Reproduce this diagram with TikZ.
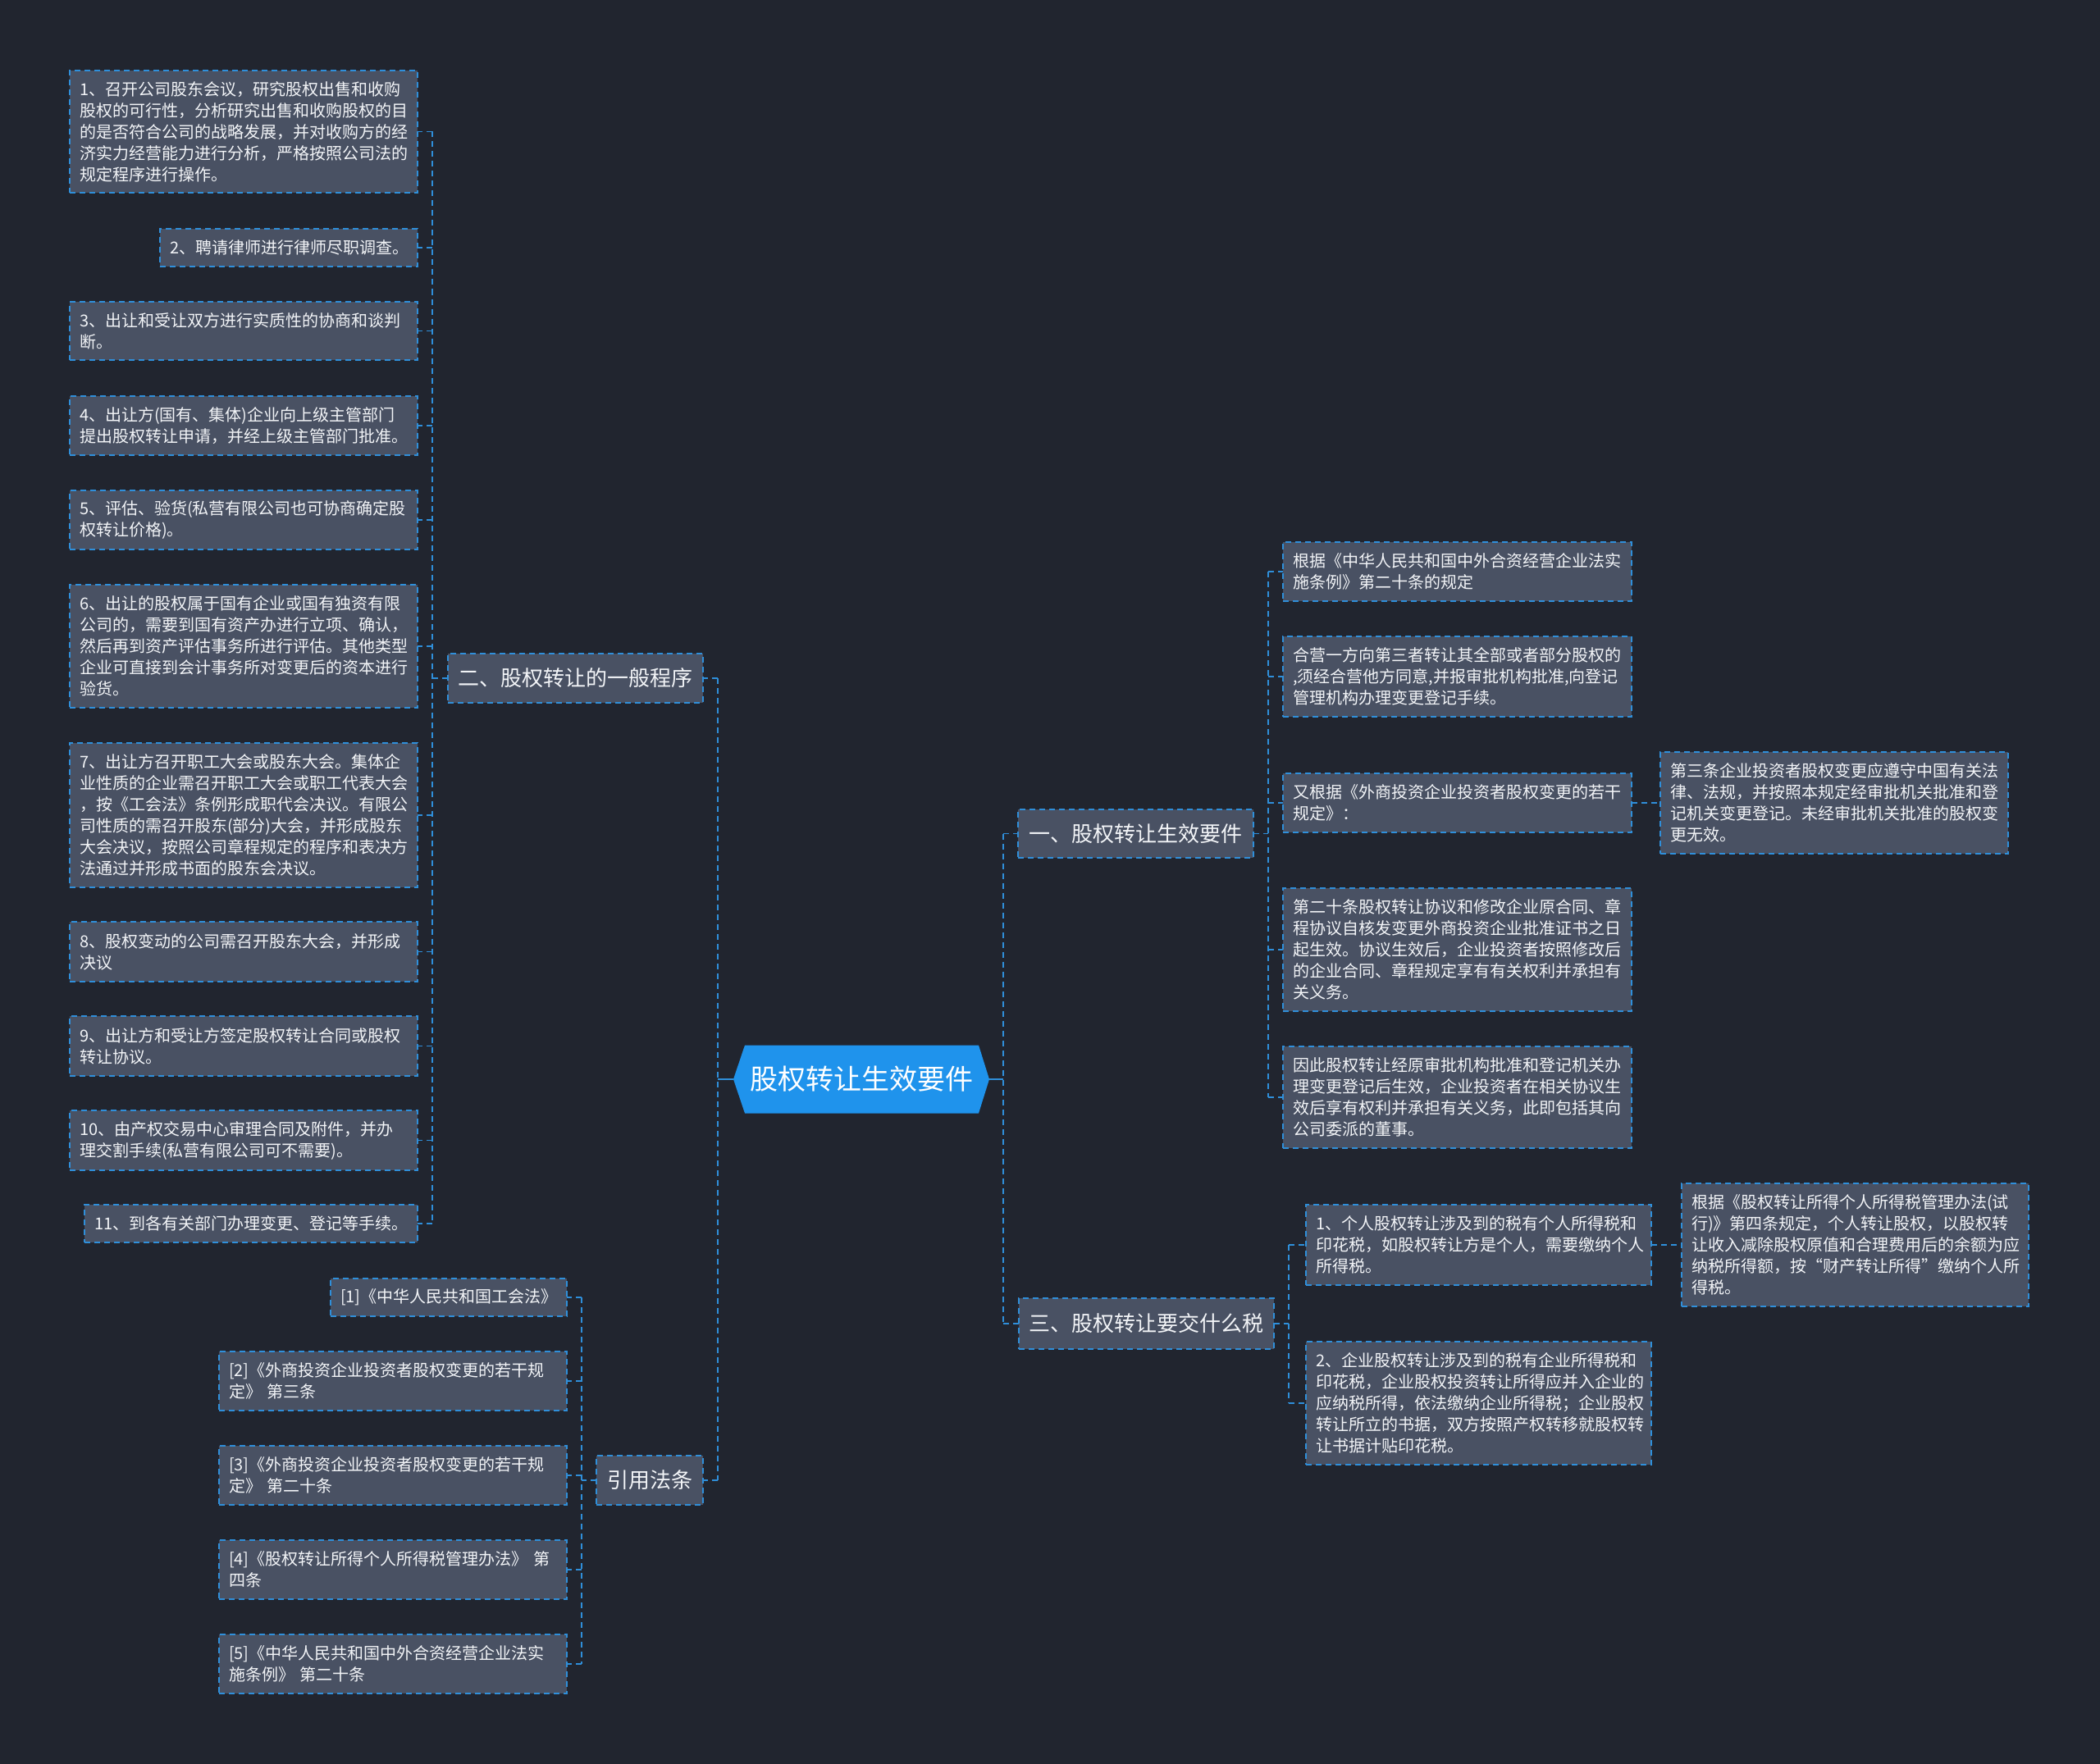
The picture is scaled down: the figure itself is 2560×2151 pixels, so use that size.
\documentclass[tikz,border=0pt]{standalone}
\usepackage{fontspec}
\setmainfont{Noto Sans CJK SC}
\usetikzlibrary{calc}
\definecolor{bg}{HTML}{21252F}
\definecolor{boxc}{HTML}{495163}
\definecolor{linec}{HTML}{2F8FDA}
\definecolor{rootc}{HTML}{1F93EC}
\definecolor{txt}{HTML}{F2F4F7}
\begin{document}
\begin{tikzpicture}[x=1pt,y=-1pt,
  box/.style={draw=linec, line width=1.6pt, dash pattern=on 7pt off 5pt, fill=boxc, text=txt,
    inner xsep=12pt, inner ysep=0pt, outer sep=0pt, align=left, anchor=north west,
    font=\fontsize{20}{26}\selectfont},
  branch/.style={draw=linec, line width=1.6pt, dash pattern=on 7pt off 5pt, fill=boxc, text=txt,
    inner xsep=0pt, inner ysep=0pt, outer sep=0pt, align=center, anchor=north west,
    font=\fontsize{26}{32}\selectfont},
  conn/.style={draw=linec, line width=1.6pt, dash pattern=on 7pt off 5pt},
  solidconn/.style={draw=linec, line width=2pt}]
\fill[bg] (0,0) rectangle (2560,2151);
\useasboundingbox (0,0) rectangle (2560,2151);

% root
\node[minimum width=312pt, minimum height=83pt, inner sep=0pt, outer sep=0pt, text=white,
  font=\fontsize{34}{40}\selectfont,
  path picture={\fill[rootc] (path picture bounding box.west)
    -- ([xshift=14pt]path picture bounding box.north west)
    -- ([xshift=-13pt]path picture bounding box.north east)
    -- (path picture bounding box.east)
    -- ([xshift=-13pt]path picture bounding box.south east)
    -- ([xshift=14pt]path picture bounding box.south west) -- cycle;}]
  (root) at (1050,1316) {股权转让生效要件};

% branches
\node[branch, minimum width=311pt, minimum height=60pt] (n2) at (546,797) {二、股权转让的一般程序};
\node[branch, minimum width=130pt, minimum height=60pt] (n4) at (727,1775) {引用法条};
\node[branch, minimum width=287pt, minimum height=59pt] (n1) at (1241,987) {一、股权转让生效要件};
\node[branch, minimum width=311pt, minimum height=62pt] (n3) at (1242,1583) {三、股权转让要交什么税};

% left: procedure
\node[box, text width=400pt, minimum height=149pt] (b1) at (85,86) {1、召开公司股东会议，研究股权出售和收购\\股权的可行性，分析研究出售和收购股权的目\\的是否符合公司的战略发展，并对收购方的经\\济实力经营能力进行分析，严格按照公司法的\\规定程序进行操作。};
\node[box, text width=290pt, minimum height=46pt] (b2) at (195,279) {2、聘请律师进行律师尽职调查。};
\node[box, text width=400pt, minimum height=71pt] (b3) at (85,368) {3、出让和受让双方进行实质性的协商和谈判\\断。};
\node[box, text width=400pt, minimum height=72pt] (b4) at (85,483) {4、出让方(国有、集体)企业向上级主管部门\\提出股权转让申请，并经上级主管部门批准。};
\node[box, text width=400pt, minimum height=72pt] (b5) at (85,598) {5、评估、验货(私营有限公司也可协商确定股\\权转让价格)。};
\node[box, text width=400pt, minimum height=150pt] (b6) at (85,713) {6、出让的股权属于国有企业或国有独资有限\\公司的，需要到国有资产办进行立项、确认，\\然后再到资产评估事务所进行评估。其他类型\\企业可直接到会计事务所对变更后的资本进行\\验货。};
\node[box, text width=400pt, minimum height=176pt] (b7) at (85,906) {7、出让方召开职工大会或股东大会。集体企\\业性质的企业需召开职工大会或职工代表大会\\，按《工会法》条例形成职代会决议。有限公\\司性质的需召开股东(部分)大会，并形成股东\\大会决议，按照公司章程规定的程序和表决方\\法通过并形成书面的股东会决议。};
\node[box, text width=400pt, minimum height=73pt] (b8) at (85,1124) {8、股权变动的公司需召开股东大会，并形成\\决议};
\node[box, text width=400pt, minimum height=73pt] (b9) at (85,1239) {9、出让方和受让方签定股权转让合同或股权\\转让协议。};
\node[box, text width=400pt, minimum height=73pt] (b10) at (85,1354) {10、由产权交易中心审理合同及附件，并办\\理交割手续(私营有限公司可不需要)。};
\node[box, text width=382pt, minimum height=46pt] (b11) at (103,1469) {11、到各有关部门办理变更、登记等手续。};

% left: references
\node[box, text width=264pt, minimum height=46pt] (r1) at (403,1559) {[1]《中华人民共和国工会法》};
\node[box, text width=400pt, minimum height=72pt] (r2) at (267,1648) {[2]《外商投资企业投资者股权变更的若干规\\定》~第三条};
\node[box, text width=400pt, minimum height=72pt] (r3) at (267,1763) {[3]《外商投资企业投资者股权变更的若干规\\定》~第二十条};
\node[box, text width=400pt, minimum height=72pt] (r4) at (267,1878) {[4]《股权转让所得个人所得税管理办法》~第\\四条};
\node[box, text width=400pt, minimum height=72pt] (r5) at (267,1993) {[5]《中华人民共和国中外合资经营企业法实\\施条例》~第二十条};

% right: section one
\node[box, text width=401pt, minimum height=72pt] (a1) at (1564,661) {根据《中华人民共和国中外合资经营企业法实\\施条例》第二十条的规定};
\node[box, text width=401pt, minimum height=98pt] (a2) at (1564,776) {合营一方向第三者转让其全部或者部分股权的\\,须经合营他方同意,并报审批机构批准,向登记\\管理机构办理变更登记手续。};
\node[box, text width=401pt, minimum height=72pt] (a3) at (1564,943) {又根据《外商投资企业投资者股权变更的若干\\规定》：};
\node[box, text width=401pt, minimum height=150pt] (a4) at (1564,1083) {第二十条股权转让协议和修改企业原合同、章\\程协议自核发变更外商投资企业批准证书之日\\起生效。协议生效后，企业投资者按照修改后\\的企业合同、章程规定享有有关权利并承担有\\关义务。};
\node[box, text width=401pt, minimum height=124pt] (a5) at (1564,1276) {因此股权转让经原审批机构批准和登记机关办\\理变更登记后生效，企业投资者在相关协议生\\效后享有权利并承担有关义务，此即包括其向\\公司委派的董事。};
\node[box, text width=400pt, minimum height=124pt] (a6) at (2024,917) {第三条企业投资者股权变更应遵守中国有关法\\律、法规，并按照本规定经审批机关批准和登\\记机关变更登记。未经审批机关批准的股权变\\更无效。};

% right: section three
\node[box, text width=397pt, minimum height=98pt] (t1) at (1592,1469) {1、个人股权转让涉及到的税有个人所得税和\\印花税，如股权转让方是个人，需要缴纳个人\\所得税。};
\node[box, text width=397pt, minimum height=150pt] (t2) at (1592,1636) {2、企业股权转让涉及到的税有企业所得税和\\印花税，企业股权投资转让所得应并入企业的\\应纳税所得，依法缴纳企业所得税；企业股权\\转让所立的书据，双方按照产权转移就股权转\\让书据计贴印花税。};
\node[box, text width=399pt, minimum height=150pt] (t3) at (2050,1443) {根据《股权转让所得个人所得税管理办法(试\\行)》第四条规定，个人转让股权，以股权转\\让收入减除股权原值和合理费用后的余额为应\\纳税所得额，按“财产转让所得”缴纳个人所\\得税。};

% connectors: root left
\draw[solidconn] (root.west) -- ++(-19,0) coordinate (vr);
\draw[conn] (vr |- n2.east) -- (vr |- n4.east);
\draw[conn] (vr |- n2.east) -- (n2.east);
\draw[conn] (vr |- n4.east) -- (n4.east);
% root right
\draw[solidconn] (root.east) -- ++(17,0) coordinate (vl);
\draw[conn] (vl |- n1.west) -- (vl |- n3.west);
\draw[conn] (vl |- n1.west) -- (n1.west);
\draw[conn] (vl |- n3.west) -- (n3.west);

% n2 -> b1..b11
\draw[conn] (n2.west) -- ++(-19,0) coordinate (v2);
\draw[conn] (v2 |- b1.east) -- (v2 |- b11.east);
\foreach \b in {b1,b2,b3,b4,b5,b6,b7,b8,b9,b10,b11}
  \draw[conn] (v2 |- \b.east) -- (\b.east);

% n4 -> r1..r5
\draw[conn] (n4.west) -- ++(-18,0) coordinate (v4);
\draw[conn] (v4 |- r1.east) -- (v4 |- r5.east);
\foreach \b in {r1,r2,r3,r4,r5}
  \draw[conn] (v4 |- \b.east) -- (\b.east);

% n1 -> a1..a5
\draw[conn] (n1.east) -- ++(18,0) coordinate (v1);
\draw[conn] (v1 |- a1.west) -- (v1 |- a5.west);
\foreach \b in {a1,a2,a3,a4,a5}
  \draw[conn] (v1 |- \b.west) -- (\b.west);
\draw[conn] (a3.east) -- (a6.west);

% n3 -> t1,t2
\draw[conn] (n3.east) -- ++(18,0) coordinate (v3);
\draw[conn] (v3 |- t1.west) -- (v3 |- t2.west);
\foreach \b in {t1,t2}
  \draw[conn] (v3 |- \b.west) -- (\b.west);
\draw[conn] (t1.east) -- (t3.west);
\end{tikzpicture}
\end{document}
